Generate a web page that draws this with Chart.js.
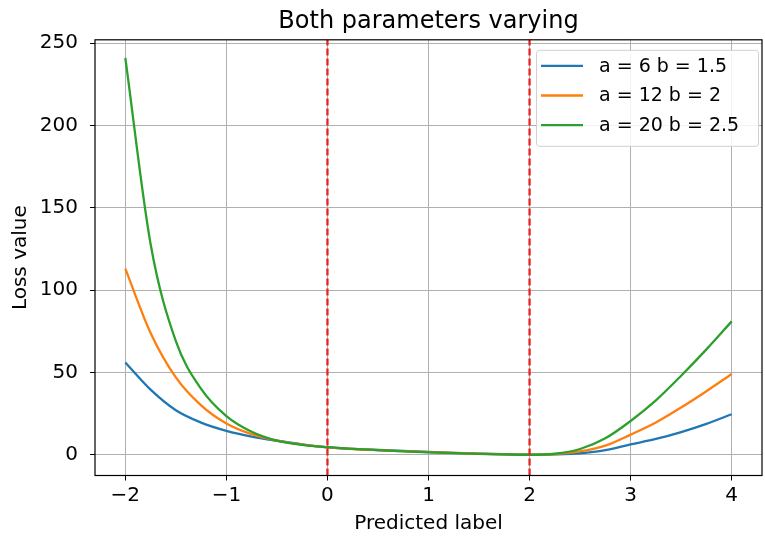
<!DOCTYPE html>
<html>
<head>
<meta charset="utf-8">
<title>Both parameters varying</title>
<script src="https://cdn.jsdelivr.net/npm/chart.js"></script>
<style>
  body { margin: 0; background: #fff; }
</style>
</head>
<body>
<canvas id="loss" width="765" height="536"></canvas>
<script>
// values
const xs = [-2, -1.75, -1.5, -1.25, -1, -0.75, -0.5, -0.25, 0, 0.25, 0.5, 0.75, 1,
            1.25, 1.5, 1.75, 2, 2.25, 2.5, 2.75, 3, 3.25, 3.5, 3.75, 4];
const lossA6  = [56, 39.5, 27, 19.5, 14.5, 11, 8.5, 6.3, 4.5, 3.6, 2.9, 2.3, 1.8,
                 1.2, 0.7, 0.3, 0, 0.2, 0.9, 2.8, 6.3, 9.6, 13.8, 18.8, 24.6];
const lossA12 = [113, 74, 47, 30, 19, 12.5, 8.6, 6.2, 4.5, 3.5, 2.8, 2.2, 1.6,
                 1.1, 0.6, 0.2, 0, 0.4, 2, 5.5, 12.2, 19.6, 28.7, 38.6, 49];
const lossA20 = [241, 128, 69, 40, 23.5, 14, 8.6, 6, 4.6, 3.6, 2.8, 2.1, 1.5,
                 1.0, 0.5, 0.2, 0, 0.6, 3.5, 10, 20.5, 33, 48, 64, 81];
const seriesLabels = ['a = 6 b = 1.5', 'a = 12 b = 2', 'a = 20 b = 2.5'];
const seriesColors = ['#1f77b4', '#ff7f0e', '#2ca02c'];
const markerXs = [0, 2];
const xTicks = [-2, -1, 0, 1, 2, 3, 4];
const yTicks = [0, 50, 100, 150, 200, 250];
const xRange = [-2.3, 4.3];
const yRange = [-12.6, 252];

const FONT = "'DejaVu Sans', sans-serif";

function pts(arr) {
    return xs.map((x, i) => ({x: x, y: arr[i]}));
}

let datasets = [];
[lossA6, lossA12, lossA20].forEach((arr, i) => {
    datasets.push({
        label: seriesLabels[i],
        data: pts(arr),
        borderColor: seriesColors[i],
        borderWidth: 2.3,
        pointRadius: 0,
        cubicInterpolationMode: 'monotone',
        order: 3 - i
    });
});
markerXs.forEach(m => {
    datasets.push({
        label: 'marker',
        data: [{x: m, y: yRange[0]}, {x: m, y: yRange[1]}],
        borderColor: '#e8231f',
        borderWidth: 2.3,
        borderDash: [7, 3],
        pointRadius: 0,
        order: 0
    });
});

// black frame round the plot area
const frame = {
    id: 'frame',
    afterDatasetsDraw(chart) {
        const {ctx, chartArea: a} = chart;
        ctx.save();
        ctx.strokeStyle = '#000';
        ctx.lineWidth = 1.2;
        ctx.strokeRect(a.left, a.top, a.right - a.left, a.bottom - a.top);
        ctx.restore();
    }
};

// legend inside, upper right, like matplotlib
const insideLegend = {
    id: 'insideLegend',
    afterDraw(chart) {
        const {ctx, chartArea: a} = chart;
        const w = 222, h = 96;
        const x0 = a.right - w - 4, y0 = a.top + 10;
        ctx.save();
        ctx.fillStyle = 'rgba(255,255,255,0.85)';
        ctx.strokeStyle = '#d0d0d0';
        ctx.lineWidth = 1;
        ctx.beginPath();
        ctx.roundRect(x0 + 0.5, y0 + 0.5, w, h, 3);
        ctx.fill();
        ctx.stroke();
        ctx.font = '19px ' + FONT;
        ctx.textBaseline = 'middle';
        ctx.fillStyle = '#000';
        seriesLabels.forEach((lab, i) => {
            const cy = y0 + 16 + i * 29.7;
            ctx.strokeStyle = seriesColors[i];
            ctx.lineWidth = 2.3;
            ctx.beginPath();
            ctx.moveTo(x0 + 5, cy);
            ctx.lineTo(x0 + 47, cy);
            ctx.stroke();
            ctx.fillText(lab, x0 + 63, cy + 1);
        });
        ctx.restore();
    }
};

const minus = v => String(v).replace('-', '\u2212');

let chart = new Chart(document.getElementById('loss').getContext('2d'), {
    type: 'line',
    data: { datasets: datasets },
    options: {
        responsive: false,
        animation: false,
        devicePixelRatio: 1,
        layout: { padding: { left: 0, right: 3, top: 0, bottom: 0 } },
        plugins: {
            legend: { display: false },
            tooltip: { enabled: false },
            title: {
                display: true,
                fullSize: false,
                text: 'Both parameters varying',
                color: '#000',
                font: { family: FONT, size: 24, weight: 'normal' },
                padding: { top: 7, bottom: 4 }
            }
        },
        scales: {
            x: {
                type: 'linear',
                min: xRange[0],
                max: xRange[1],
                afterBuildTicks: s => { s.ticks = xTicks.map(v => ({value: v})); },
                afterFit: s => { s.height = 60.5; },
                ticks: {
                    callback: v => minus(v),
                    color: '#000',
                    font: { family: FONT, size: 20 },
                    padding: 3,
                    maxRotation: 0,
                    autoSkip: false
                },
                grid: { color: '#b0b0b0', lineWidth: 1, tickColor: '#000', tickLength: 5 },
                border: { display: false },
                title: {
                    display: true,
                    text: 'Predicted label',
                    color: '#000',
                    font: { family: FONT, size: 20 },
                    padding: { top: 0, bottom: 0 }
                }
            },
            y: {
                type: 'linear',
                min: yRange[0],
                max: yRange[1],
                afterBuildTicks: s => { s.ticks = yTicks.map(v => ({value: v})); },
                afterFit: s => { s.width = 95; },
                ticks: {
                    color: '#000',
                    font: { family: FONT, size: 20 },
                    padding: 12
                },
                grid: { color: '#b0b0b0', lineWidth: 1, tickColor: '#000', tickLength: 5 },
                border: { display: false },
                title: {
                    display: true,
                    text: 'Loss value',
                    color: '#000',
                    font: { family: FONT, size: 20 },
                    padding: { top: 9, bottom: 0 }
                }
            }
        }
    },
    plugins: [frame, insideLegend]
});
</script>
</body>
</html>
